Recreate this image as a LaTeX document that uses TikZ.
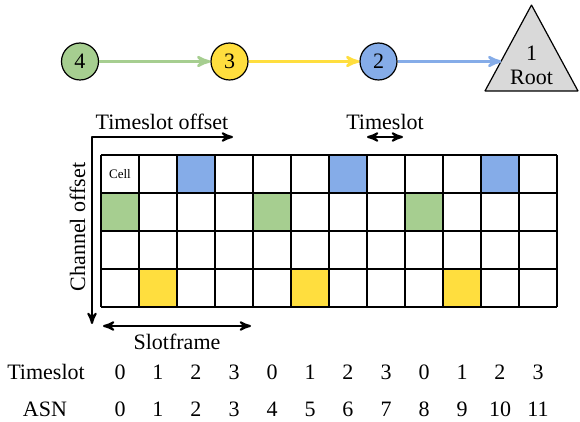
\documentclass[tikz,border=0pt]{standalone}
\usepackage{fontspec}
\setmainfont{Liberation Serif}
\usepackage{tikz}
\usetikzlibrary{shapes,arrows,positioning,calc}

\definecolor{slotgreen}{RGB}{166,206,144}
\definecolor{slotyellow}{RGB}{255,222,62}
\definecolor{slotblue}{RGB}{133,172,232}
\definecolor{rootgray}{RGB}{217,217,217}

\begin{document}
\begin{tikzpicture}[x=0.5pt,y=-0.5pt,>=stealth',line join=bevel,
  font=\fontsize{11}{13}\selectfont,
  mote/.style={draw,circle,line width=0.6pt,minimum size=18.5pt,inner sep=0pt},
  hop/.style={->,line width=1.3pt},
  axisline/.style={line width=1pt},
  gridline/.style={line width=1pt}]
\useasboundingbox (0,0) rectangle (580,422);
%%
\node (n4) at (80,61.5) [mote,fill=slotgreen] {4};
  \node (n3) at (229.5,61.5) [mote,fill=slotyellow] {3};
  \node (n2) at (378.5,61.5) [mote,fill=slotblue] {2};
  \coordinate (rtop) at (531.5,5);
  \coordinate (rleft) at (485,91);
  \coordinate (rright) at (578,91);
  \coordinate (rin) at (501.4,61.5);
  \draw [fill=rootgray,line width=0.6pt] (rtop) -- (rleft) -- (rright) -- cycle;
  \node (root) at (531.5,65) [align=center] {1\\[-1pt]Root};
  \draw [hop,slotgreen] (n4) -- (n3);
  \draw [hop,slotyellow] (n3) -- (n2);
  \draw [hop,slotblue] (n2) -- (rin);
%
\foreach \c in {2,6,10} \fill [slotblue] ({101+38*\c},155) rectangle ++(38,38);
  \foreach \c in {0,4,8} \fill [slotgreen] ({101+38*\c},193) rectangle ++(38,38);
  \foreach \c in {1,5,9} \fill [slotyellow] ({101+38*\c},269) rectangle ++(38,38);
  \foreach \c in {0,...,12} \draw [gridline] ({101+38*\c},155) -- ({101+38*\c},307);
  \foreach \r in {0,...,4} \draw [gridline] (101,{155+38*\r}) -- (557,{155+38*\r});
  \node (cell) at (120,174) {\fontsize{6.5}{7}\selectfont Cell};
%
\coordinate (corner) at (92,137);
  \coordinate (tsend) at (233,137);
  \coordinate (chend) at (92,324);
  \draw [axisline,<->] (tsend) -- (corner) -- (chend);
  \node (tsoff) at (162,122) {Timeslot offset};
  \node (choff) at (77.5,227) [rotate=90] {Channel offset};
  \coordinate (tsl) at (367,137);
  \coordinate (tsr) at (403,137);
  \draw [axisline,<->] (tsl) -- (tsr);
  \node (tslot) at (385,122) {Timeslot};
  \coordinate (sfl) at (103,326);
  \coordinate (sfr) at (251,326);
  \draw [axisline,<->] (sfl) -- (sfr);
  \node (sframe) at (177,342) {Slotframe};
%
\node (tsrow) at (46,372) {Timeslot};
  \node (asnrow) at (45,409) {ASN};
  \foreach \i in {0,...,11} {
    \pgfmathtruncatemacro\ts{mod(\i,4)}
    \node (ts\i) at ({120+38*\i},372) {\ts};
    \node (asn\i) at ({120+38*\i},409) {\i};
  }
%
\end{tikzpicture}
\end{document}
